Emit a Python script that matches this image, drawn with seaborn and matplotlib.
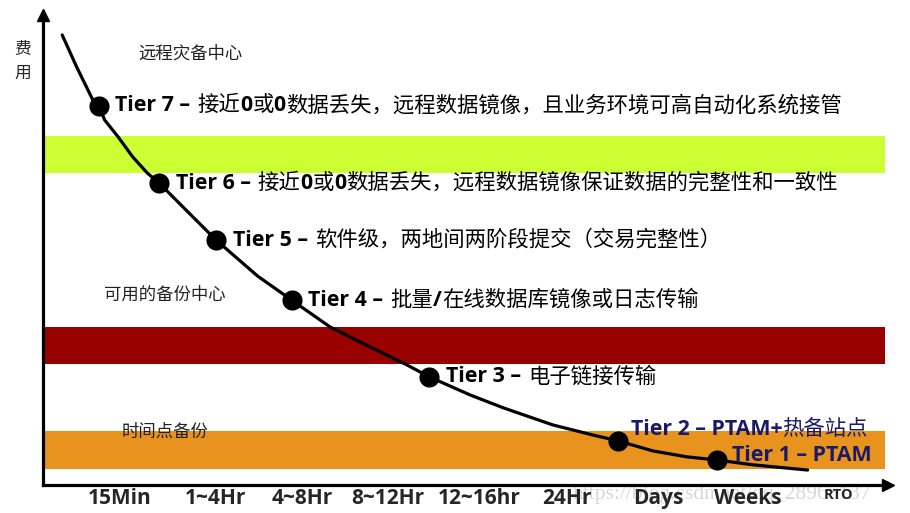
import re
import matplotlib
matplotlib.use("Agg")
import matplotlib.pyplot as plt
import seaborn as sns

# RTO categories on the x axis (ticks at 0..8, labels sit between them)
rto_labels = ['15Min', '1~4Hr', '4~8Hr', '8~12Hr', '12~16hr', '24Hr', 'Days', 'Weeks']
rto_label_pos = [0.53, 1.65, 2.67, 3.68, 4.76, 5.79, 6.86, 7.92]
rto_ticks = [0, 1, 2, 3, 4, 5, 6, 7, 8]

# tiers: position on the RTO axis and relative cost
tier_num = [7, 6, 5, 4, 3, 2, 1]
tier_rto = [0.28, 0.99, 1.66, 2.55, 4.17, 6.39, 7.55]
tier_cost = [10.91, 8.69, 7.05, 5.32, 3.11, 1.27, 0.72]
tier_desc = [
    '接近0或0数据丢失，远程数据镜像，且业务环境可高自动化系统接管',
    '接近0或0数据丢失，远程数据镜像保证数据的完整性和一致性',
    '软件级，两地间两阶段提交（交易完整性）',
    '批量/在线数据库镜像或日志传输',
    '电子链接传输',
    'PTAM+热备站点',
    'PTAM',
]

# cost curve
curve_rto = [-0.15, 0.02, 0.21, 0.28, 0.35, 0.51, 0.68, 0.85, 0.99, 1.32, 1.66,
             2.15, 2.55, 3.0, 3.45, 3.91, 4.17, 4.65, 5.04, 5.62, 6.09, 6.39,
             6.8, 7.2, 7.55, 7.98, 8.62]
curve_cost = [12.95, 12.03, 11.08, 10.91, 10.50, 10.01, 9.44, 8.98, 8.69, 7.88, 7.05,
              6.01, 5.32, 4.55, 4.0, 3.45, 3.11, 2.59, 2.22, 1.73, 1.44, 1.27,
              0.98, 0.81, 0.72, 0.58, 0.43]

# coloured bands: point-in-time backup, available backup centre, remote DR centre
band_lo = [0.46, 3.48, 8.98]
band_hi = [1.55, 4.55, 10.04]
band_colors = ['#e8931e', '#990000', '#ccff33']
region_names = ['时间点备份', '可用的备份中心', '远程灾备中心']
region_x = [0.55, 0.34, 0.74]
region_y = [1.53, 5.47, 12.42]

sns.set_style("white")
plt.rcParams['font.family'] = ['Open Sans', 'Noto Sans CJK SC', 'DejaVu Sans']

fig = plt.figure(figsize=(9.1, 5.13), dpi=100)
ax = fig.add_axes([43 / 910, 28 / 513, 845 / 910, 470 / 513])
ax.patch.set_alpha(0)
ax.set_xlim(-0.376, 9.565)
ax.set_ylim(0, 13.525)

for lo, hi, c in zip(band_lo, band_hi, band_colors):
    ax.axhspan(lo, hi, xmin=0, xmax=0.996, color=c, lw=0, zorder=0)

sns.lineplot(x=curve_rto, y=curve_cost, ax=ax, color='black', linewidth=2.3,
             sort=False, estimator=None, zorder=3)
sns.scatterplot(x=tier_rto, y=tier_cost, ax=ax, s=210, color='black',
                linewidth=0, zorder=4)

# spines with arrow heads
for side in ['top', 'right']:
    ax.spines[side].set_visible(False)
for side in ['left', 'bottom']:
    ax.spines[side].set_linewidth(2.3)
    ax.spines[side].set_color('black')
ax.plot(1, 0, '>k', ms=9, transform=ax.transAxes, clip_on=False)
ax.plot(0, 1, '^k', ms=9, transform=ax.transAxes, clip_on=False)

# ticks
ax.set_xticks(rto_ticks)
ax.set_xticklabels([])
ax.set_xticks(rto_label_pos, minor=True)
ax.set_xticklabels(rto_labels, minor=True, fontweight='bold', fontsize=15)
ax.tick_params(axis='x', which='major', direction='in', length=11, width=2.2)
ax.tick_params(axis='x', which='minor', length=0, pad=2)
ax.set_yticks(range(2, 13, 2))
ax.set_yticks(range(1, 13, 2), minor=True)
ax.set_yticklabels([])
ax.tick_params(axis='y', which='major', direction='in', length=13, width=2.2)
ax.tick_params(axis='y', which='minor', direction='in', length=8, width=2.2)

ax.text(8.98, -0.3, 'RTO', ha='center', va='center', fontsize=10.5,
        fontweight='bold', clip_on=False)
ax.text(-0.62, 12.2, '费\n用', ha='center', va='center', fontsize=12,
        linespacing=1.6, family=['Noto Sans CJK SC'], clip_on=False)

for name, x, y in zip(region_names, region_x, region_y):
    ax.text(x, y, name, ha='left', va='center', fontsize=12.5,
            family=['Noto Sans CJK SC'], color='#222222')

# tier labels: latin runs bold, chinese runs regular
cjk = '\u3000-\u303f\u4e00-\u9fff\uff00-\uffef'
offsets = {2: (9, 8), 1: (11, 3.5)}
for n, x, y, desc in zip(tier_num, tier_rto, tier_cost, tier_desc):
    color = '#1a1a66' if n <= 2 else 'black'
    runs = re.findall(f'[{cjk}]+|[^{cjk}]+', f'Tier {n} \u2013 {desc}')
    prev = None
    gap = 0
    for run in runs:
        bold = re.match(f'[{cjk}]', run) is None
        kw = dict(fontsize=15.4, color=color, fontweight='bold' if bold else 'normal',
                  annotation_clip=False, zorder=5)
        if prev is None:
            prev = ax.annotate(run.rstrip(), xy=(x, y), xytext=offsets.get(n, (12, 0)),
                               textcoords='offset points', ha='left', va='center', **kw)
        else:
            prev = ax.annotate(run.rstrip(), xy=(1, 0), xycoords=prev,
                               xytext=(gap, 0), textcoords='offset points',
                               ha='left', va='bottom', **kw)
        gap = 5 if run.endswith(' ') else 0

# faint watermark as in the source image, kept behind the axes
fig.text(0.63, 0.018, 'https://blog.csdn.net/qq_28965137', fontsize=15.5,
         family=['Liberation Serif'], color='#d8d8d8', ha='left', va='bottom',
         zorder=-1)

fig.savefig('out.png', dpi=100)
